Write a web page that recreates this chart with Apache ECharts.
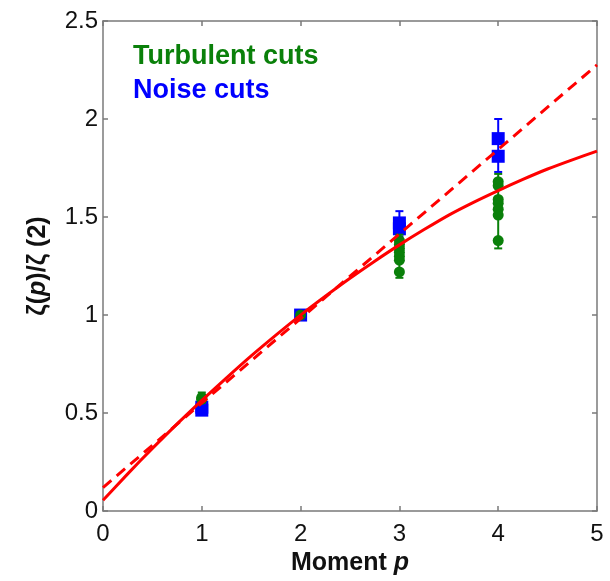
<!DOCTYPE html>
<html>
<head>
<meta charset="utf-8">
<script src="https://cdn.jsdelivr.net/npm/echarts@6/dist/echarts.min.js"></script>
<style>
  html, body { margin: 0; padding: 0; background: #fff; }
  #chart { width: 610px; height: 581px; }
</style>
</head>
<body>
<div id="chart"></div>
<script>
// Structure-function exponents normalised by zeta(2)
const xTicks = [0, 1, 2, 3, 4, 5];
const yTicks = [0, 0.5, 1, 1.5, 2, 2.5];

// Turbulent cuts (green circles)
const turbP   = [1, 1, 1, 2, 3, 3, 3, 3, 3, 3, 3, 4, 4, 4, 4, 4, 4, 4];
const turbVal = [0.57, 0.58, 0.575, 1.0, 1.38, 1.36, 1.34, 1.32, 1.30, 1.28, 1.22, 1.68, 1.66, 1.59, 1.57, 1.54, 1.51, 1.38];
const turbErrP    = [1, 3, 4];
const turbErrLow  = [0.555, 1.19, 1.34];
const turbErrHigh = [0.605, 1.41, 1.72];

// Noise cuts (blue squares)
const noiseP   = [1, 1, 2, 3, 3, 4, 4];
const noiseVal = [0.515, 0.53, 1.0, 1.47, 1.44, 1.90, 1.81];
const noiseErrP    = [1, 3, 4];
const noiseErrLow  = [0.50, 1.40, 1.73];
const noiseErrHigh = [0.55, 1.53, 2.00];

// Model curves
const curveP     = [0, 0.25, 0.5, 0.75, 1, 1.25, 1.5, 1.75, 2, 2.25, 2.5, 2.75, 3, 3.25, 3.5, 3.75, 4, 4.25, 4.5, 4.75, 5];
const curveSolid = [0.055, 0.19, 0.32, 0.445, 0.565, 0.68, 0.792, 0.898, 1.0, 1.096, 1.188, 1.275, 1.358, 1.436, 1.51, 1.575, 1.635, 1.692, 1.745, 1.792, 1.836];
const lineP      = [0, 5];
const lineDashed = [0.12, 2.276];

const GREEN = '#0a800a';
const BLUE = '#0000ff';
const RED = '#ff0000';
const AXIS = '#7a7a7a';
const TEXT = '#111';
const FONT = "'Liberation Sans', Arial, Helvetica, sans-serif";

const zip = (a, b) => a.map((v, i) => [v, b[i]]);
const zip3 = (a, b, c) => a.map((v, i) => [v, b[i], c[i]]);

function errorBars(color) {
  return function (params, api) {
    const x = api.value(0);
    const lo = api.coord([x, api.value(1)]);
    const hi = api.coord([x, api.value(2)]);
    const cap = 4;
    const style = { stroke: color, lineWidth: 2 };
    return {
      type: 'group',
      children: [
        { type: 'line', shape: { x1: lo[0], y1: lo[1], x2: hi[0], y2: hi[1] }, style },
        { type: 'line', shape: { x1: lo[0] - cap, y1: lo[1], x2: lo[0] + cap, y2: lo[1] }, style },
        { type: 'line', shape: { x1: hi[0] - cap, y1: hi[1], x2: hi[0] + cap, y2: hi[1] }, style }
      ]
    };
  };
}

function frameAxis() {
  return {
    axisLine: { show: true, onZero: false, lineStyle: { color: AXIS, width: 1.5 } },
    axisTick: { show: true, inside: true, length: 5, lineStyle: { color: AXIS, width: 1.5 } },
    splitLine: { show: false }
  };
}

const chart = echarts.init(document.getElementById('chart'));
chart.setOption({
  animation: false,
  backgroundColor: '#fff',
  grid: { left: 103, top: 21, width: 494, height: 493 },
  legend: {
    orient: 'vertical',
    left: 123,
    top: 38,
    icon: 'none',
    itemWidth: 0,
    itemHeight: 10,
    itemGap: 7,
    selectedMode: false,
    textStyle: { fontFamily: FONT, fontSize: 27, fontWeight: 'bold' },
    data: [
      { name: 'Turbulent cuts', textStyle: { color: GREEN } },
      { name: 'Noise cuts', textStyle: { color: BLUE } }
    ]
  },
  xAxis: [
    Object.assign({
      type: 'value', min: xTicks[0], max: xTicks[xTicks.length - 1], interval: 1,
      position: 'bottom',
      name: '{b|Moment }{bi|p}',
      nameLocation: 'middle',
      nameGap: 37,
      nameTextStyle: {
        rich: {
          b: { fontFamily: FONT, fontSize: 25, fontWeight: 'bold', color: TEXT },
          bi: { fontFamily: FONT, fontSize: 25, fontWeight: 'bold', fontStyle: 'italic', color: TEXT }
        }
      },
      axisLabel: { fontFamily: FONT, fontSize: 24, color: TEXT, margin: 11 }
    }, frameAxis()),
    Object.assign({
      type: 'value', min: 0, max: 5, interval: 1, position: 'top',
      axisLabel: { show: false }
    }, frameAxis())
  ],
  yAxis: [
    Object.assign({
      type: 'value', min: yTicks[0], max: yTicks[yTicks.length - 1], interval: 0.5,
      position: 'left',
      name: '{n|ζ(}{bi|p}{n|)/ζ (2)}',
      nameLocation: 'middle',
      nameGap: 52,
      nameRotate: 90,
      nameTextStyle: {
        rich: {
          n: { fontFamily: FONT, fontSize: 25, fontWeight: 'bold', color: TEXT },
          bi: { fontFamily: FONT, fontSize: 25, fontWeight: 'bold', fontStyle: 'italic', color: TEXT }
        }
      },
      axisLabel: { fontFamily: FONT, fontSize: 24, color: TEXT, margin: 5 }
    }, frameAxis()),
    Object.assign({
      type: 'value', min: 0, max: 2.5, interval: 0.5, position: 'right',
      axisLabel: { show: false }
    }, frameAxis())
  ],
  series: [
    {
      name: 'noise-err', type: 'custom', z: 2,
      renderItem: errorBars(BLUE),
      data: zip3(noiseErrP, noiseErrLow, noiseErrHigh)
    },
    {
      name: 'Noise cuts', type: 'scatter', z: 3,
      symbol: 'rect', symbolSize: 13,
      itemStyle: { color: BLUE, opacity: 1 },
      data: zip(noiseP, noiseVal)
    },
    {
      name: 'turb-err', type: 'custom', z: 4,
      renderItem: errorBars(GREEN),
      data: zip3(turbErrP, turbErrLow, turbErrHigh)
    },
    {
      name: 'Turbulent cuts', type: 'scatter', z: 5,
      symbol: 'circle', symbolSize: 11,
      itemStyle: { color: GREEN, opacity: 1 },
      data: zip(turbP, turbVal)
    },
    {
      name: 'fit', type: 'line', z: 6, smooth: 0.2, showSymbol: false, symbol: 'none',
      lineStyle: { color: RED, width: 3 },
      data: zip(curveP, curveSolid)
    },
    {
      name: 'linear', type: 'line', z: 6, showSymbol: false, symbol: 'none',
      lineStyle: { color: RED, width: 3, type: [11, 7] },
      data: zip(lineP, lineDashed)
    }
  ]
});
</script>
</body>
</html>
